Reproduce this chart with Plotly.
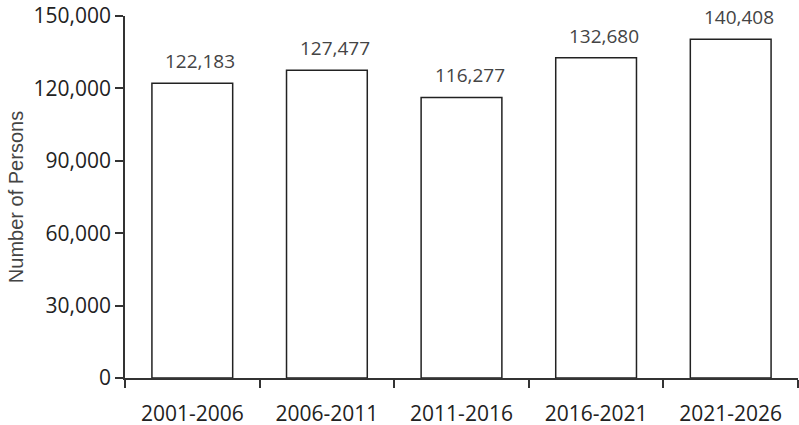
import plotly.graph_objects as go

periods = ["2001-2006", "2006-2011", "2011-2016", "2016-2021", "2021-2026"]
persons = [122183, 127477, 116277, 132680, 140408]
y_ticks = [0, 30000, 60000, 90000, 120000, 150000]

fig = go.Figure()
fig.add_trace(go.Bar(
    x=periods, y=persons,
    marker=dict(color="white", line=dict(color="#222", width=1.5)),
    showlegend=False, hoverinfo="x+y",
))

# value labels sit a little right of the bar centre in the original
labels = [dict(x=p, y=v, text=f"{v:,}", showarrow=False, yanchor="bottom",
               yshift=7, xshift=8, font=dict(size=19, color="#444", family="Open Sans"))
          for p, v in zip(periods, persons)]

fig.update_layout(
    width=799, height=425,
    margin=dict(l=125, r=1, t=16, b=47),
    plot_bgcolor="white", paper_bgcolor="white",
    bargap=0.4,
    font=dict(family="Open Sans", color="#222"),
    annotations=labels,
    xaxis=dict(
        range=[-0.5, 4.5], showline=True, linecolor="#333", linewidth=1.5,
        ticks="outside", tickson="boundaries", ticklen=8, tickcolor="#333",
        tickwidth=1.5, tickfont=dict(size=21, color="#222"), ticklabelstandoff=16,
        showgrid=False, automargin=False,
    ),
    yaxis=dict(
        range=[0, 150000], tickvals=y_ticks, tickformat=",",
        showline=True, linecolor="#333", linewidth=1.5,
        ticks="outside", ticklen=8, tickcolor="#333", tickwidth=1.5,
        tickfont=dict(size=21, color="#222"), showgrid=False, zeroline=False,
        automargin=False,
        title=dict(text="Number of Persons", standoff=5,
                   font=dict(size=20, color="#444", family="Liberation Sans, Arial")),
    ),
)
fig.write_html("out.html", config={"displayModeBar": False},
               post_script="document.body.style.margin='0';")
